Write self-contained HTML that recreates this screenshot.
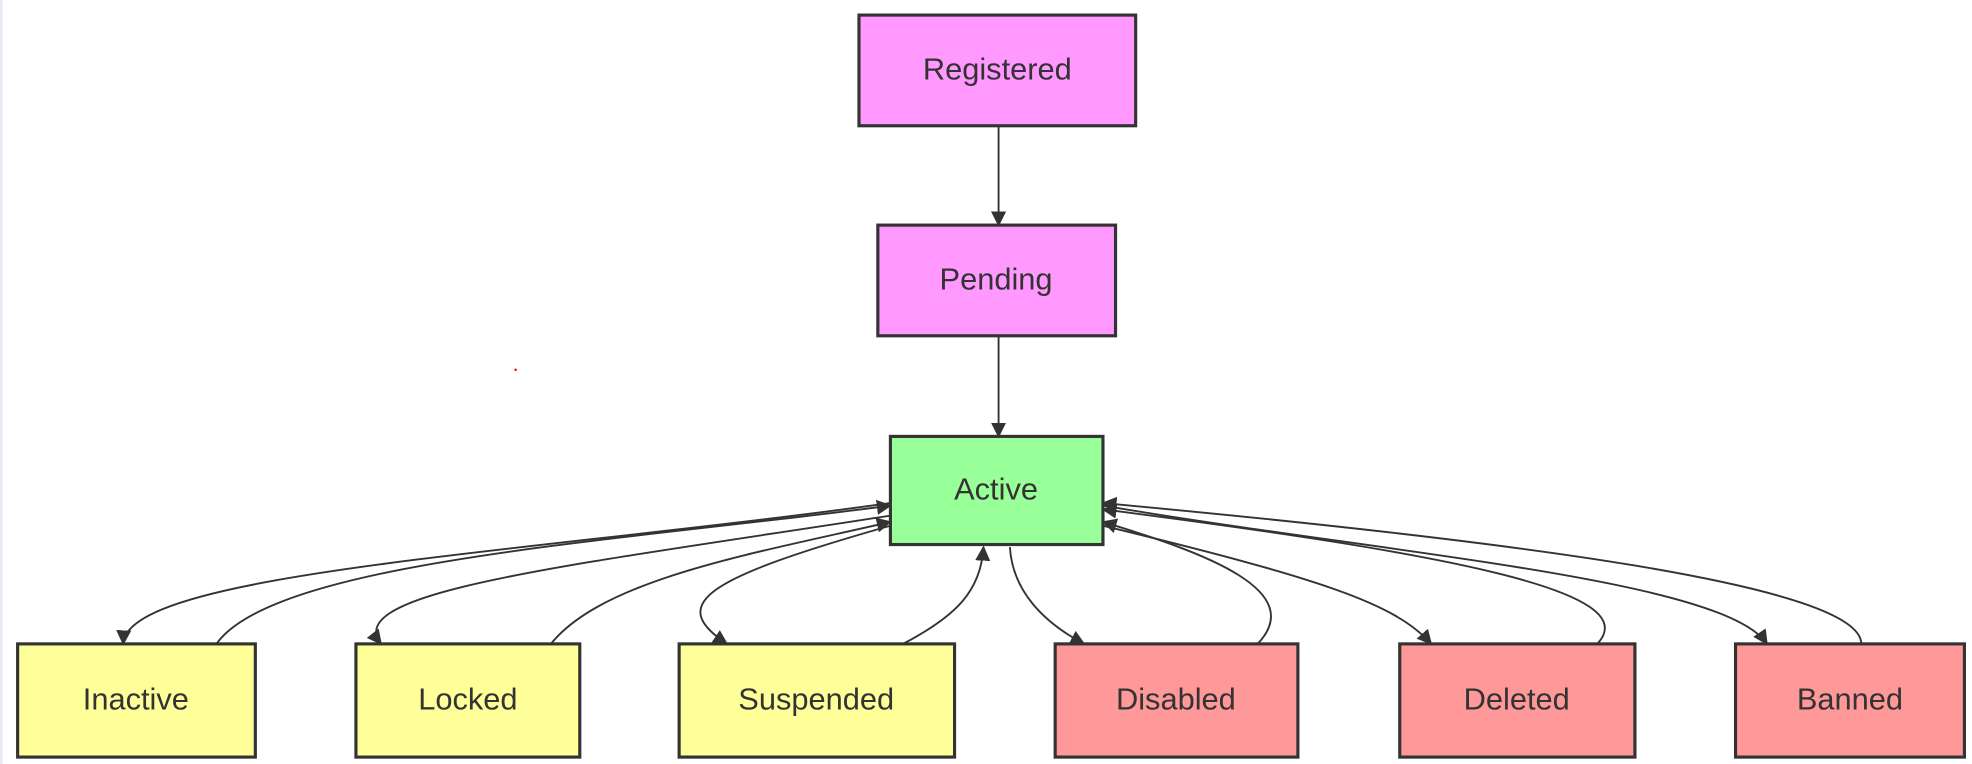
<!DOCTYPE html>
<html><head><meta charset="utf-8"><style>
html,body{margin:0;padding:0;background:#fff;width:1972px;height:764px;overflow:hidden}
svg{display:block}
text{font-family:"Liberation Sans","DejaVu Sans",sans-serif;font-size:24.5px;fill:#333;text-anchor:middle;dominant-baseline:central}
</style></head><body>
<svg width="1972" height="764" viewBox="0 0 1568 607.5" xmlns="http://www.w3.org/2000/svg">
<defs><marker id="b" viewBox="0 0 10 10" refX="9" refY="5" markerWidth="12" markerHeight="12" markerUnits="userSpaceOnUse" orient="auto"><path d="M0,0L10,5L0,10z" fill="#333"/></marker></defs>
<rect x="0" y="0" width="2" height="607.5" fill="#e6ecf6"/>
<circle cx="410" cy="294" r="1" fill="red"/>
<g fill="none" stroke="#333" stroke-width="1.5" marker-end="url(#b)">
<path d="M794,100L794,179"/>
<path d="M794,267L794,347"/>
<path d="M708,400C420,440 100,455 98,512"/>
<path d="M172,512C220,445 500,430 708,402"/>
<path d="M708,410C450,450 270,470 303,512"/>
<path d="M438,512C480,460 600,440 708,415"/>
<path d="M708,418C560,460 530,480 578,512"/>
<path d="M718,512C760,490 780,470 782,435"/>
<path d="M803,435C805,470 830,495 862,512"/>
<path d="M1000,512C1040,470 960,440 877,415"/>
<path d="M877,418C1050,460 1110,480 1138,512"/>
<path d="M1270,512C1310,470 1150,440 877,405"/>
<path d="M877,402C1100,440 1370,460 1405,512"/>
<path d="M1480,512C1480,465 1200,430 877,400"/>
</g>
<g stroke="#333" stroke-width="2.5">
<rect x="683" y="12" width="220" height="88" fill="#ff99ff"/>
<rect x="698" y="179" width="189" height="88" fill="#ff99ff"/>
<rect x="708" y="347" width="169" height="86" fill="#99ff99"/>
<rect x="14" y="512" width="189" height="90" fill="#ffff99"/>
<rect x="283" y="512" width="178" height="90" fill="#ffff99"/>
<rect x="540" y="512" width="219" height="90" fill="#ffff99"/>
<rect x="839" y="512" width="193" height="90" fill="#ff9999"/>
<rect x="1113" y="512" width="187" height="90" fill="#ff9999"/>
<rect x="1380" y="512" width="182" height="90" fill="#ff9999"/>
</g>
<text x="793" y="55">Registered</text>
<text x="792" y="222">Pending</text>
<text x="792" y="389">Active</text>
<text x="108" y="556">Inactive</text>
<text x="372" y="556">Locked</text>
<text x="649" y="556">Suspended</text>
<text x="935" y="556">Disabled</text>
<text x="1206" y="556">Deleted</text>
<text x="1471" y="556">Banned</text>
</svg>
</body></html>
